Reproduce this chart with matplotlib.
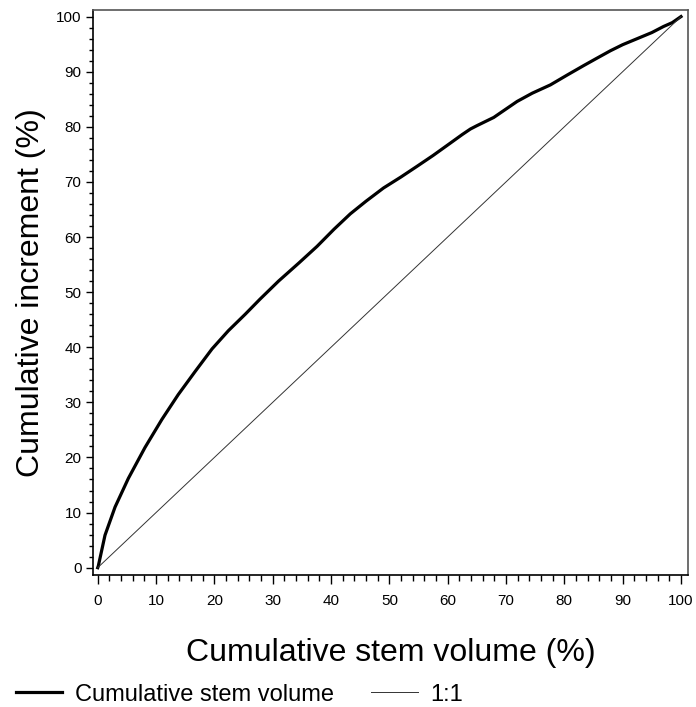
import numpy as np
import matplotlib
matplotlib.use('Agg')
import matplotlib.pyplot as plt
from matplotlib.ticker import MultipleLocator

plt.rcParams['font.family'] = ['Liberation Sans', 'DejaVu Sans']

# cumulative stem volume (%) vs cumulative increment (%)
stem_vol = [0.0, 0.1, 1.25, 2.97, 5.25, 8.1, 11.0, 13.8, 16.7, 19.6, 22.4, 25.3,
            27.8, 31.0, 34.5, 37.6, 40.5, 43.3, 46.0, 49.0, 52.0, 54.7, 57.5,
            60.4, 62.5, 63.9, 65.0, 67.9, 69.0, 71.9, 74.5, 77.6, 80.5, 83.3,
            85.5, 87.9, 90.0, 92.5, 95.0, 97.0, 98.5, 100.0]
cum_incr = [0.0, 0.3, 5.9, 11.0, 16.2, 21.8, 26.9, 31.4, 35.6, 39.7, 43.0, 46.0,
            48.7, 52.0, 55.3, 58.3, 61.4, 64.2, 66.5, 68.9, 70.9, 72.8, 74.8,
            77.0, 78.6, 79.6, 80.2, 81.7, 82.5, 84.6, 86.1, 87.6, 89.4, 91.1,
            92.4, 93.8, 94.9, 96.0, 97.1, 98.2, 98.9, 100.0]
one_to_one = [0, 100]

fig = plt.figure(figsize=(6.96, 7.07), dpi=100)
ax = fig.add_axes([0.1332, 0.1867, 0.8553, 0.7992])

ax.plot(stem_vol, cum_incr, color='black', lw=2.3, solid_joinstyle='round',
        label='Cumulative stem volume')
ax.plot(one_to_one, one_to_one, color='#333333', lw=0.7, label='1:1')

ax.set_xlim(-0.86, 101.2)
ax.set_ylim(-1.33, 101.2)
ax.xaxis.set_major_locator(MultipleLocator(10))
ax.xaxis.set_minor_locator(MultipleLocator(2))
ax.yaxis.set_major_locator(MultipleLocator(10))
ax.yaxis.set_minor_locator(MultipleLocator(2))
ax.tick_params(which='major', width=1, labelsize=11)
ax.tick_params(which='minor', width=1)
ax.tick_params(axis='x', which='major', length=6.5, pad=7)
ax.tick_params(axis='x', which='minor', length=4)
ax.tick_params(axis='y', which='major', length=5, pad=3)
ax.tick_params(axis='y', which='minor', length=3)

for side in ['left', 'bottom']:
    ax.spines[side].set_color('black')
for side in ['top', 'right']:
    ax.spines[side].set_color('#555555')
for s in ax.spines.values():
    s.set_linewidth(1.2)

ax.set_xlabel('Cumulative stem volume (%)', fontsize=23, labelpad=22)
ax.set_ylabel('Cumulative increment (%)', fontsize=23, labelpad=7)

fig.legend(loc='lower left', bbox_to_anchor=(-0.008, -0.028), ncol=2, frameon=False,
           fontsize=17, handlelength=1.95, handletextpad=0.55, columnspacing=1.6)

fig.savefig('out.png', dpi=100)
